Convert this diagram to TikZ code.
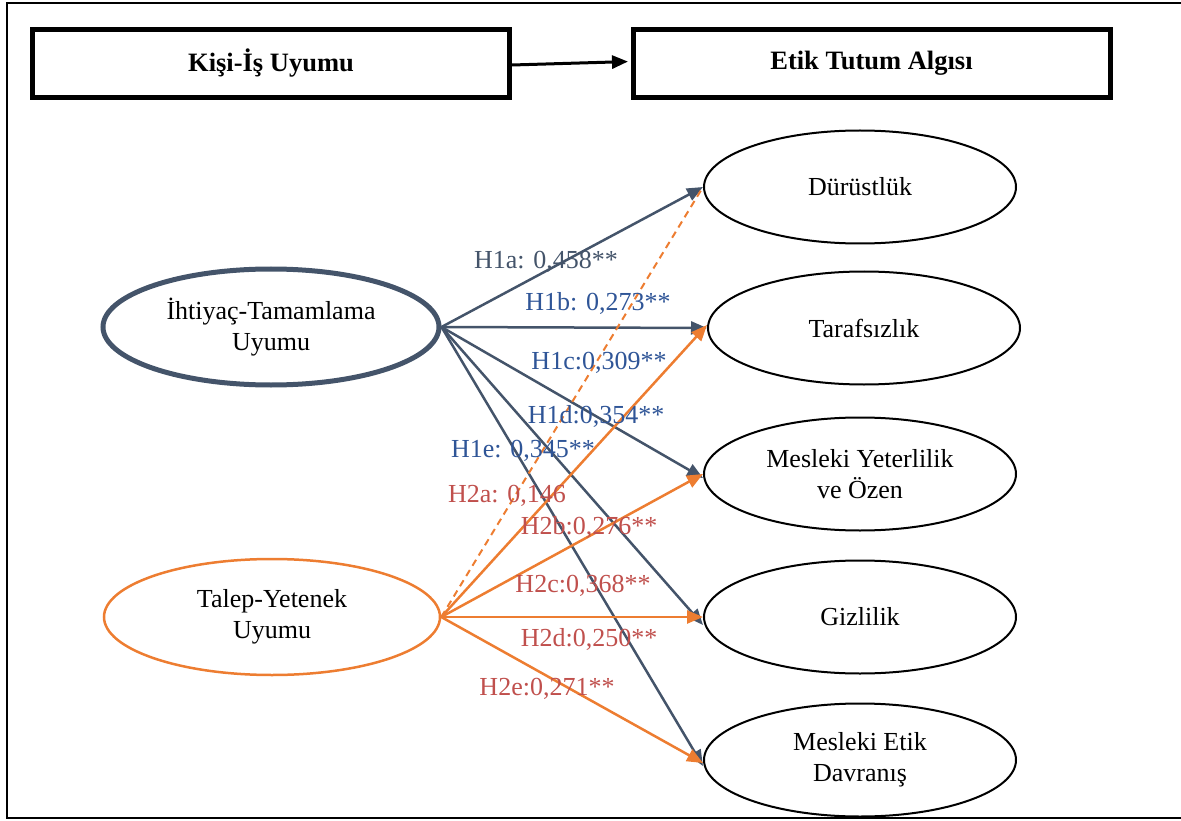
\documentclass[tikz,border=0pt]{standalone}
\usepackage{fontspec}
\setmainfont{Liberation Serif}
\usetikzlibrary{shapes.geometric,arrows.meta}
\definecolor{slate}{HTML}{44546A}
\definecolor{orng}{HTML}{ED7D31}
\definecolor{hblue}{HTML}{2F5597}
\definecolor{hred}{HTML}{C0504D}
\begin{document}
\begin{tikzpicture}[x=1pt,y=-1pt,
  every node/.style={font=\fontsize{26}{31}\selectfont, inner sep=0pt},
  headbox/.style={draw, line width=5pt, minimum width=477pt, minimum height=68pt,
    font=\fontsize{26.5}{30}\selectfont\bfseries},
  factor/.style={ellipse, align=center, minimum width=336pt, minimum height=116pt},
  dimension/.style={ellipse, draw=black, line width=2pt, align=center,
    minimum width=312pt, minimum height=113pt},
  slatearrow/.style={draw=slate, line width=2.5pt, -{Triangle[length=16pt,width=13pt]}},
  orangearrow/.style={draw=orng, line width=2.5pt, -{Triangle[length=16pt,width=13pt]}},
  lbl/.style={anchor=center}
]
\useasboundingbox (0,0) rectangle (1181,821);

% outer frame
\draw[line width=2.5pt] (1181,3) -- (7,3) -- (7,818) -- (1181,818);

% header boxes
\node[headbox] (kisi) at (271,63.5) {Kişi-İş Uyumu};
\node[headbox] (etik) at (871.5,63.5) {Etik Tutum Algısı};
\draw[line width=3pt, -{Triangle[length=16pt,width=13pt]}, shorten >=2.5pt]
  ([yshift=-1.5pt]kisi.east) -- ([yshift=2pt]etik.west);

% independent factors
\node[factor, draw=slate, line width=5pt] (iht) at (271,327) {İhtiyaç-Tamamlama\\Uyumu};
\node[factor, draw=orng, line width=2.5pt] (tal) at (272,617) {Talep-Yetenek\\Uyumu};

% ethical attitude dimensions
\node[dimension] (dur) at (860,187) {Dürüstlük};
\node[dimension] (tar) at (864,328) {Tarafsızlık};
\node[dimension] (mes) at (860,474) {Mesleki Yeterlilik\\ve Özen};
\node[dimension] (giz) at (860,617) {Gizlilik};
\node[dimension] (met) at (860,760) {Mesleki Etik\\Davranış};

% paths from İhtiyaç-Tamamlama Uyumu
\draw[slatearrow] (iht.east) -- (dur.west);
\draw[slatearrow] (iht.east) -- (tar.west);
\draw[slatearrow] (iht.east) -- ([yshift=-4pt]mes.west);
\draw[slatearrow] (iht.east) -- ([yshift=-8pt]giz.west);
\draw[slatearrow] (iht.east) -- ([yshift=-6pt]met.west);

% paths from Talep-Yetenek Uyumu
\draw[draw=orng, line width=2pt, dash pattern=on 7pt off 5pt] (tal.east) -- (dur.west);
\draw[orangearrow] (tal.east) -- ([yshift=3pt]tar.west);
\draw[orangearrow] (tal.east) -- (mes.west);
\draw[orangearrow] (tal.east) -- (giz.west);
\draw[orangearrow] (tal.east) -- ([yshift=-3pt]met.west);

% coefficients
\node[lbl, text=slate] (h1a) at (546,262) {H1a: 0,458**};
\node[lbl, text=hblue] (h1b) at (598,303) {H1b: 0,273**};
\node[lbl, text=hblue] (h1c) at (599,363) {H1c:0,309**};
\node[lbl, text=hblue] (h1d) at (596,416) {H1d:0,354**};
\node[lbl, text=hblue] (h1e) at (523,451) {H1e: 0,345**};
\node[lbl, text=hred] (h2a) at (507,496) {H2a: 0,146};
\node[lbl, text=hred] (h2b) at (589,527) {H2b:0,276**};
\node[lbl, text=hred] (h2c) at (583,586) {H2c:0,368**};
\node[lbl, text=hred] (h2d) at (589,639) {H2d:0,250**};
\node[lbl, text=hred] (h2e) at (547,689) {H2e:0,271**};
\end{tikzpicture}
\end{document}
